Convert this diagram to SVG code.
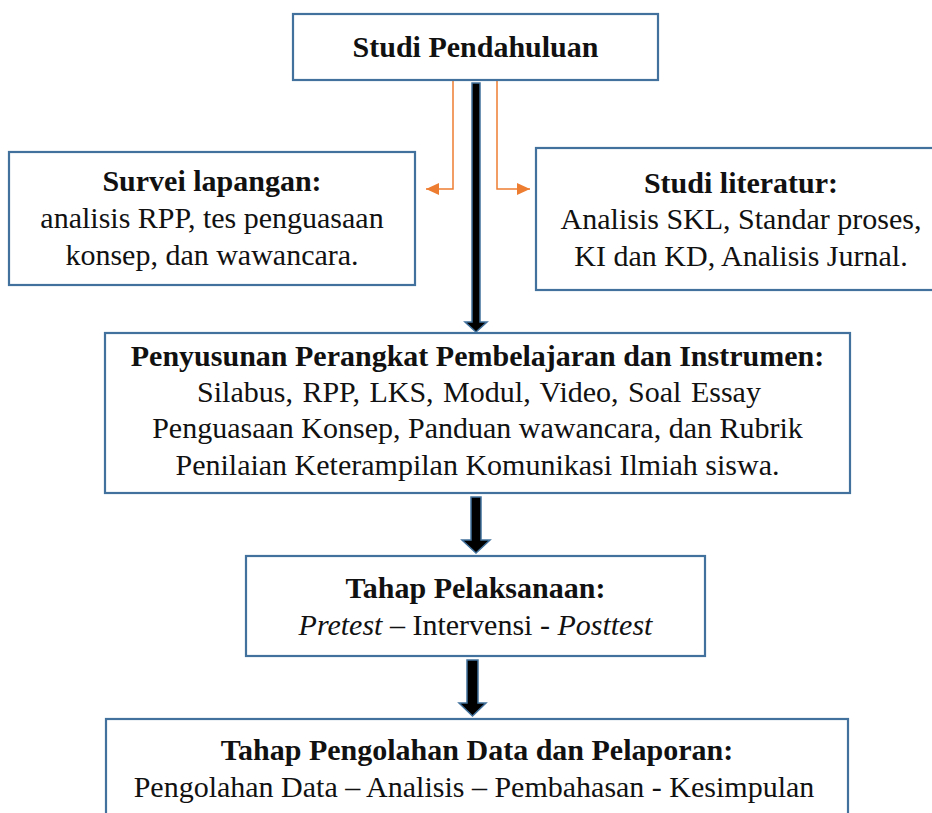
<svg xmlns="http://www.w3.org/2000/svg" width="932" height="813" viewBox="0 0 932 813">
<defs>
<style>
.box{fill:#fff;stroke:#41719C;stroke-width:2.2}
.t{font-family:"Liberation Serif","Times New Roman",serif;font-size:30px;fill:#111;text-anchor:middle}
.b{font-weight:bold}
.i{font-style:italic}
.or{fill:none;stroke:#ED7D31;stroke-width:1.5}
.bar{fill:#000;stroke:#41719C;stroke-width:1.5;stroke-linejoin:miter}
</style>
<marker id="oa" markerUnits="userSpaceOnUse" markerWidth="14" markerHeight="14" viewBox="0 0 14 14" refX="13" refY="7" orient="auto">
<path d="M0,1 L13,7 L0,13 Z" fill="#ED7D31"/>
</marker>
</defs>
<rect width="932" height="813" fill="#fff"/>

<g id="connectors">
<path class="or" d="M453,80 V189 H426" marker-end="url(#oa)"/>
<path class="or" d="M497,80 V189 H530" marker-end="url(#oa)"/>
<path class="or" d="M453,80 H497"/>
<path class="bar" d="M472,83 H480 V322 H487 L476,332 L465,322 H472 Z"/>
<path class="bar" d="M471,497 H481 V540 H490 L476,553 L462,540 H471 Z"/>
<path class="bar" d="M467,660 H478 V703 H486 L472.5,716 L459,703 H467 Z"/>
</g>

<g id="studi-pendahuluan">
<rect class="box" x="293" y="14" width="365" height="66"/>
<text class="t b" x="475.5" y="57">Studi Pendahuluan</text>
</g>

<g id="survei-lapangan">
<rect class="box" x="9" y="152" width="406" height="133"/>
<text class="t b" x="212" y="191">Survei lapangan:</text>
<text class="t" x="212" y="228">analisis RPP, tes penguasaan</text>
<text class="t" x="212" y="265">konsep, dan wawancara.</text>
</g>

<g id="studi-literatur">
<rect class="box" x="536" y="148" width="410" height="142"/>
<text class="t b" x="741" y="193">Studi literatur:</text>
<text class="t" x="741" y="229">Analisis SKL, Standar proses,</text>
<text class="t" x="741" y="266">KI dan KD, Analisis Jurnal.</text>
</g>

<g id="penyusunan">
<rect class="box" x="105" y="333" width="745" height="160"/>
<text class="t b" x="477.5" y="366">Penyusunan Perangkat Pembelajaran dan Instrumen:</text>
<text class="t" x="479" y="402" word-spacing="2">Silabus, RPP, LKS, Modul, Video, Soal Essay</text>
<text class="t" x="477.5" y="438">Penguasaan Konsep, Panduan wawancara, dan Rubrik</text>
<text class="t" x="477.5" y="475">Penilaian Keterampilan Komunikasi Ilmiah siswa.</text>
</g>

<g id="pelaksanaan">
<rect class="box" x="246" y="556" width="459" height="100"/>
<text class="t b" x="475.5" y="598">Tahap Pelaksanaan:</text>
<text class="t" x="475.5" y="635"><tspan class="i">Pretest</tspan> – Intervensi - <tspan class="i">Posttest</tspan></text>
</g>

<g id="pengolahan">
<rect class="box" x="106" y="719" width="742" height="110"/>
<text class="t b" x="477" y="760">Tahap Pengolahan Data dan Pelaporan:</text>
<text class="t" x="474" y="797">Pengolahan Data – Analisis – Pembahasan - Kesimpulan</text>
</g>
</svg>
